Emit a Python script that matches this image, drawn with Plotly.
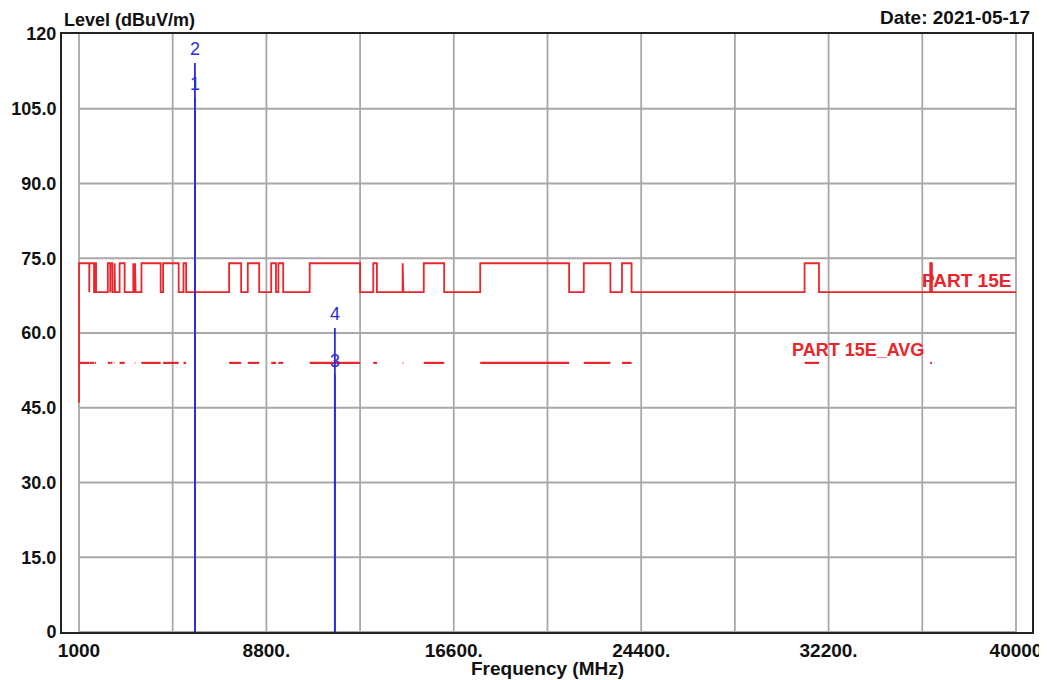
import plotly.graph_objects as go

# ---------------- data ----------------
# Restricted bands (MHz) where the limit is raised (peak 74 / avg 54)
band_start = [1000, 1435, 1645.5, 1660, 1718.8, 2200, 2310, 2483.5, 2690, 3260, 3332, 3345.8,
              3600, 4500, 5350, 7250, 8025, 9000, 9300, 10600, 13250, 14470, 15350, 17700,
              22010, 23600, 31200, 36430]
band_stop = [1427, 1626.5, 1646.5, 1710, 1722.2, 2300, 2390, 2500, 2900, 3267, 3339, 3358,
             4400, 5150, 5460, 7750, 8500, 9200, 9500, 12700, 13400, 14500, 16200, 21400,
             23120, 24000, 31800, 36500]
limit_start_value = 46.0
peak_limit_high = 74.0
peak_limit_low = 68.2
avg_limit = 54.0
f_min, f_max = 1000, 40000

marker_ids = ["1", "2", "3", "4"]
marker_freq = [5825, 5825, 11650, 11650]
marker_level = [107.2, 114.2, 51.6, 61.0]

x_tick_vals = [1000, 8800, 16600, 24400, 32200, 40000]
x_tick_text = ["1000", "8800.", "16600.", "24400.", "32200.", "40000"]
x_grid_vals = [1000 + 3900 * k for k in range(11)]
y_tick_vals = [0, 15, 30, 45, 60, 75, 90, 105, 120]
y_tick_text = ["0", "15.0", "30.0", "45.0", "60.0", "75.0", "90.0", "105.0", "120"]

RED = "#e8262b"
BLUE = "#2b2bd6"
GRID = "#a8a8a8"
FONT = "Liberation Sans, Arial, sans-serif"

# ---------------- build limit lines ----------------
px, py = [], []
for i, (s, e) in enumerate(zip(band_start, band_stop)):
    if i == 0:
        px += [s, s]
        py += [limit_start_value, peak_limit_high]
    else:
        px += [s, s]
        py += [peak_limit_low, peak_limit_high]
    px += [e, e]
    py += [peak_limit_high, peak_limit_low]
px.append(f_max)
py.append(peak_limit_low)

ax, ay = [], []
for s, e in zip(band_start, band_stop):
    ax += [s, e, None]
    ay += [avg_limit, avg_limit, None]

mx, my = [], []
for f, v in zip(marker_freq, marker_level):
    mx += [f, f, None]
    my += [0, v, None]

fig = go.Figure()

# grid (restricted to data span)
for g in x_grid_vals:
    fig.add_shape(type="line", x0=g, x1=g, y0=0, y1=120, xref="x", yref="y",
                  line=dict(color=GRID, width=1.8), layer="below")
for g in y_tick_vals[:-1]:
    fig.add_shape(type="line", x0=f_min, x1=f_max, y0=g, y1=g, xref="x", yref="y",
                  line=dict(color=GRID, width=1.8), layer="below")

fig.add_trace(go.Scatter(x=px, y=py, mode="lines", line=dict(color=RED, width=1.8),
                         hoverinfo="skip", showlegend=False))
fig.add_trace(go.Scatter(x=ax, y=ay, mode="lines", line=dict(color=RED, width=2.2),
                         connectgaps=False, hoverinfo="skip", showlegend=False))
fig.add_trace(go.Scatter(x=mx, y=my, mode="lines", line=dict(color=BLUE, width=1.8),
                         hoverinfo="skip", showlegend=False))

for mid, f, v in zip(marker_ids, marker_freq, marker_level):
    fig.add_annotation(x=f, y=v, text=mid, showarrow=False, xanchor="center",
                       yanchor="bottom", yshift=2,
                       font=dict(color=BLUE, size=18, family=FONT))

fig.add_annotation(x=36000, y=70.6, text="<b>PART 15E</b>", showarrow=False,
                   xanchor="left", yanchor="middle", font=dict(color=RED, size=19, family=FONT))
fig.add_annotation(x=30600, y=56.6, text="<b>PART 15E_AVG</b>", showarrow=False,
                   xanchor="left", yanchor="middle", font=dict(color=RED, size=18, family=FONT))

fig.add_annotation(xref="paper", yref="paper", x=0, y=1, yshift=2, text="<b>Level (dBuV/m)</b>",
                   showarrow=False, xanchor="left", yanchor="bottom",
                   font=dict(color="#111", size=18, family=FONT))
fig.add_annotation(xref="paper", yref="paper", x=1, y=1, yshift=4, text="<b>Date: 2021-05-17</b>",
                   showarrow=False, xanchor="right", yanchor="bottom",
                   font=dict(color="#111", size=19, family=FONT))
fig.add_annotation(xref="paper", yref="paper", x=0.5, y=0, yshift=-24, text="<b>Frequency (MHz)</b>",
                   showarrow=False, xanchor="center", yanchor="top",
                   font=dict(color="#111", size=19, family=FONT))

fig.update_layout(
    width=1047, height=680,
    margin=dict(l=54, r=23, t=26, b=56),
    paper_bgcolor="white", plot_bgcolor="white",
    font=dict(family=FONT, color="#111"),
    xaxis=dict(range=[293, 40666], tickmode="array", tickvals=x_tick_vals,
               ticktext=["<b>%s</b>" % t for t in x_tick_text],
               tickfont=dict(size=19, family=FONT, color="#111"),
               showgrid=False, zeroline=False, showline=True, linecolor="#222",
               linewidth=2, mirror=True, ticks="", automargin=False),
    yaxis=dict(range=[0, 120], tickmode="array", tickvals=y_tick_vals,
               ticktext=["<b>%s</b>" % t for t in y_tick_text],
               tickfont=dict(size=18, family=FONT, color="#111"),
               showgrid=False, zeroline=False, showline=True, linecolor="#222",
               linewidth=2, mirror=True, ticks="", automargin=False),
)

fig.write_html("out.html")
